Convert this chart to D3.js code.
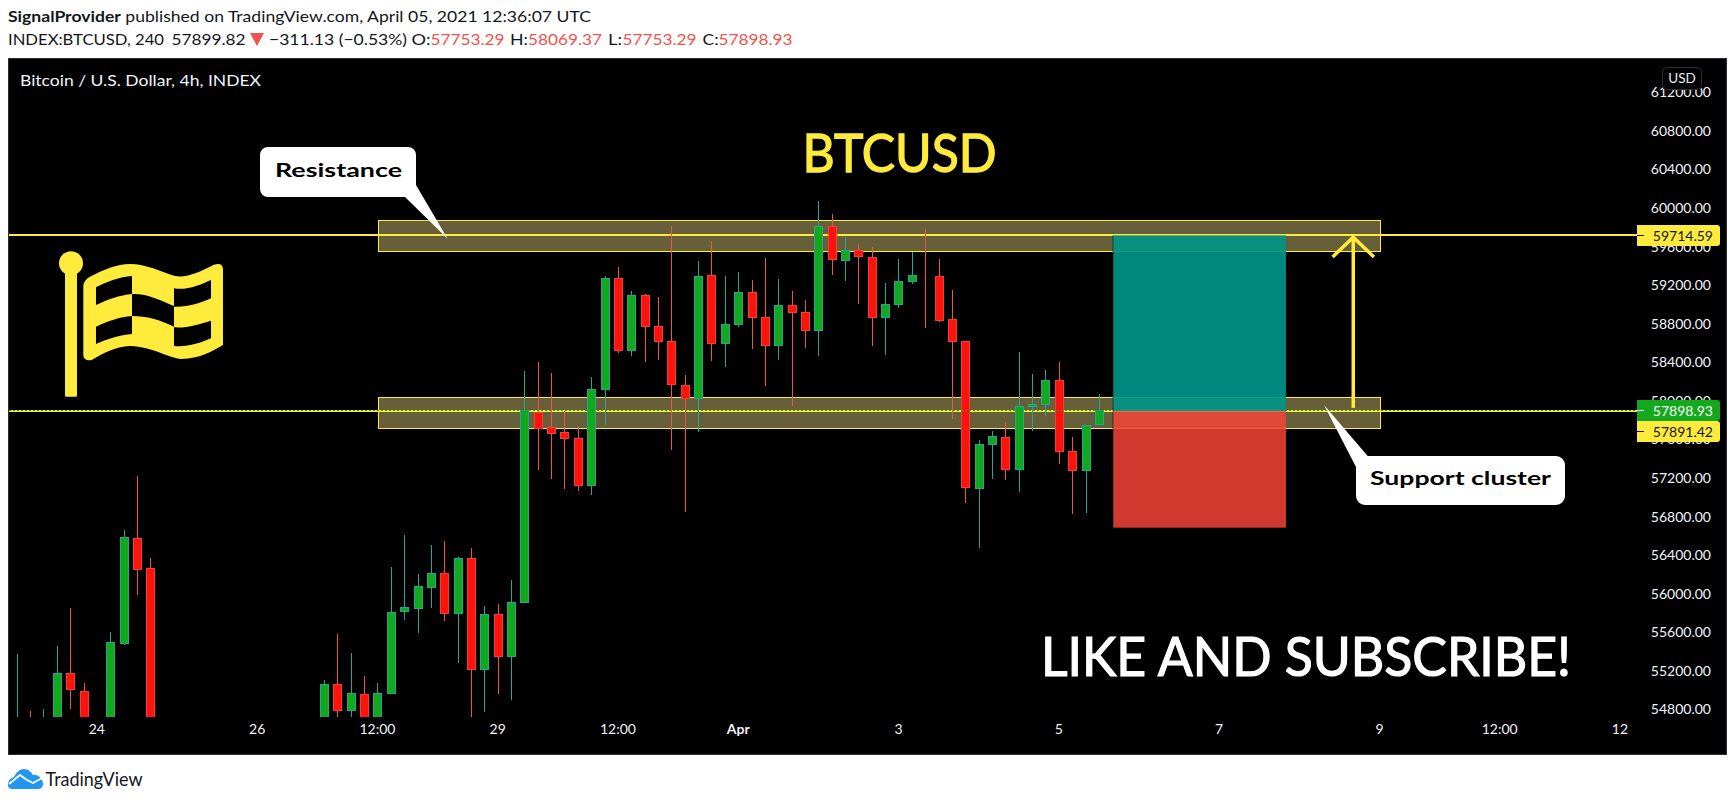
<!DOCTYPE html>
<html>
<head>
<meta charset="utf-8">
<script src="https://cdn.jsdelivr.net/npm/d3@7"></script>
<style>
html,body{margin:0;padding:0;background:#fff;overflow:hidden}
svg{display:block}
text{font-family:Lato,"Noto Sans",sans-serif}
</style>
</head>
<body>
<div id="chart"></div>
<script>
// ---- data (bar numbers count 4h candles from the left edge)
const barIndex = [0,1,2,3,4,5,7,8,9,10,
  23,24,25,26,27,28,29,30,31,32,33,34,35,36,37,38,39,40,41,42,43,44,45,46,47,48,49,50,51,52,
  53,54,55,56,57,58,59,60,61,62,63,64,65,66,67,68,69,70,71,72,73,74,75,76,77,78,79,80,81];
const opens = [54400,54650,54500,54600,55173,54986,54600,55480,56573,56262,
  54600,55059,54785,54955,54650,54961,55812,55843,56061,56210,55791,56365,55210,55785,55345,55905,57879,57717,57672,57610,57118,58118,59269,58518,59093,58771,58616,58159,58021,59300,
  58591,58788,59124,58865,58570,58989,58916,58726,59808,59452,59559,59487,58860,58995,59234,59300,59290,58844,58616,57091,57548,57620,57288,57942,57962,58211,57475,57278,57753.29];
const highs = [55373,54782,54803,55456,55847,55072,55598,56659,57219,56369,
  55103,55580,55383,55145,55072,56275,56607,56203,56503,56545,56379,56472,55871,55892,56140,58308,58401,58287,57893,57737,58246,59293,59386,59137,59106,59075,59811,58266,59448,59656,
  59293,59334,59251,59480,59262,59137,59044,60071,59936,59697,59625,59594,59220,59469,59542,59780,59469,59148,58616,57592,57686,57779,58505,58277,58318,58401,57623,57745,58069.37];
const lows = [54300,54400,54400,54500,54803,54500,54500,55466,55985,54500,
  54500,54650,54650,54550,54550,54961,55726,55591,55850,55715,55280,54700,54772,54958,54896,55905,57284,57188,57084,57066,57022,57748,58498,58463,58401,58422,57489,56849,57678,58411,
  58352,58767,58539,58155,58422,57945,58546,58463,59303,59241,59003,58567,58474,58961,59210,58754,58816,57810,56942,56475,57191,57180,57056,57689,57844,57346,56828,56838,57753.29];
const closes = [54500,54500,54650,55173,55003,54600,55494,56583,56247,54600,
  55059,54785,54965,54650,54965,55805,55857,56075,56210,55791,56365,55210,55785,55345,55909,57893,57709,57658,57606,57118,58118,59269,58518,59093,58767,58612,58166,58021,59290,58591,
  58792,59124,58860,58570,58989,58912,58726,59808,59462,59559,59493,58860,58999,59238,59300,59295,58829,58612,57098,57548,57631,57288,57942,57962,58211,57471,57274,57745,57898.93];

const priceTicks = [54800,55200,55600,56000,56400,56800,57200,57600,58000,58400,58800,59200,59600,60000,60400,60800,61200];
const timeTickBars = [6,18,27,36,45,54,66,78,90,102,111,120];
const timeTickLabels = ["24","26","12:00","29","12:00","Apr","3","5","7","9","12:00","12"];

const resistanceLevel = 59714.59;
const supportLevel = 57891.42;
const lastPrice = 57898.93;
const zoneBars = [27,102];
const resistanceZone = [59545,59871];
const supportZone = [57709,58035];
const positionBars = [82,95];
const positionTarget = 59714.59;
const positionEntry = 57891.42;
const positionStop = 56683;
const arrowBar = 100;
const arrowFrom = 57925;
const arrowTo = 59695;
const arrowHeadBase = 59490;
const arrowHeadBars = 1.55;

const headerLine1 = "SignalProvider published on TradingView.com, April 05, 2021 12:36:07 UTC";
const paneTitle = "Bitcoin / U.S. Dollar, 4h, INDEX";

// ---- colours
const YEL="#ffeb3b", GRN="#13a91c", GRNB="#22a69a", RED="#fc140c", REDB="#f23f38", WICKR="#ef5350", INK="#131722", FRAME="#2a2e39";

const W=1735,H=803;
const pane={l:8.5,t:58.5,r:1726.5,b:754.5};
const svg=d3.select("#chart").append("svg").attr("width",W).attr("height",H).attr("viewBox",`0 0 ${W} ${H}`);

const x=d3.scaleLinear().domain([0,81]).range([17.2,1099.4]);
const y=d3.scaleLinear().domain([57200,60000]).range([477.8,207.8]);
const cx=i=>Math.floor(x(i));

svg.append("rect").attr("x",pane.l).attr("y",pane.t).attr("width",pane.r-pane.l).attr("height",pane.b-pane.t).attr("fill","#000").attr("stroke",FRAME);

svg.append("defs").append("clipPath").attr("id","bars").append("rect").attr("x",8).attr("y",58).attr("width",1630).attr("height",659);

// zones
function zone(r){
  const t=Math.floor(y(r[1]))+.5,b=Math.floor(y(r[0]))+.5,l=Math.round(x(zoneBars[0]))+.5,rr=Math.round(x(zoneBars[1]))+.5;
  svg.append("rect").attr("x",l).attr("y",t).attr("width",rr-l).attr("height",b-t).attr("fill","#665f3a").attr("stroke",YEL).attr("stroke-width",1);
}
zone(resistanceZone); zone(supportZone);

// horizontal levels
[resistanceLevel,supportLevel].forEach(v=>{
  svg.append("line").attr("x1",9).attr("x2",1638).attr("y1",Math.round(y(v))).attr("y2",Math.round(y(v))).attr("stroke",YEL).attr("stroke-width",2);
});

// candles
const rows=barIndex.map((b,k)=>({b,o:opens[k],h:highs[k],l:lows[k],c:closes[k]}));
const g=svg.append("g").attr("clip-path","url(#bars)");
g.selectAll("line.wick").data(rows).join("line").attr("class","wick")
  .attr("x1",d=>cx(d.b)+.5).attr("x2",d=>cx(d.b)+.5)
  .attr("y1",d=>Math.round(y(d.h))).attr("y2",d=>Math.round(y(d.l)))
  .attr("stroke",d=>d.c>=d.o?"#26a69a":WICKR).attr("stroke-width",1);
g.selectAll("rect.body").data(rows).join("rect").attr("class","body")
  .attr("x",d=>cx(d.b)-3.5).attr("width",8)
  .attr("y",d=>Math.floor(y(Math.max(d.o,d.c)))+.5)
  .attr("height",d=>Math.max(0,Math.floor(y(Math.min(d.o,d.c)))-Math.floor(y(Math.max(d.o,d.c)))))
  .attr("fill",d=>d.c>=d.o?GRN:RED)
  .attr("stroke",d=>d.c>=d.o?GRNB:REDB).attr("stroke-width",1);

// last price dotted line
svg.append("line").attr("x1",9).attr("x2",1638).attr("y1",Math.floor(y(lastPrice))+.5).attr("y2",Math.floor(y(lastPrice))+.5)
  .attr("stroke",GRN).attr("stroke-width",1).attr("stroke-dasharray","2 2");

// long position tool
const pl=Math.round(x(positionBars[0])), pr=Math.round(x(positionBars[1]));
svg.append("rect").attr("x",pl).attr("width",pr-pl).attr("y",y(positionTarget)).attr("height",y(positionEntry)-y(positionTarget)).attr("fill","#009688").attr("fill-opacity",.91);
svg.append("rect").attr("x",pl).attr("width",pr-pl).attr("y",y(positionEntry)).attr("height",y(positionStop)-y(positionEntry)).attr("fill","#f44336").attr("fill-opacity",.85);
svg.append("line").attr("x1",pl).attr("x2",pl).attr("y1",y(positionTarget)).attr("y2",y(positionStop)).attr("stroke","#000").attr("stroke-opacity",.5);

// arrow
const arrowStyle=s=>s.attr("fill","none").attr("stroke",YEL).attr("stroke-width",3.5);
svg.append("line").attr("x1",x(arrowBar)).attr("x2",x(arrowBar)).attr("y1",y(arrowFrom)).attr("y2",y(arrowTo)).call(arrowStyle);
svg.append("path").attr("d",d3.line()([[x(arrowBar-arrowHeadBars),y(arrowHeadBase)],[x(arrowBar),y(arrowTo)],[x(arrowBar+arrowHeadBars),y(arrowHeadBase)]])).call(arrowStyle);

// price axis
const yAxis=d3.axisRight(y).tickValues(priceTicks).tickSize(0).tickPadding(0).tickFormat(d3.format(".2f"));
const ya=svg.append("g").attr("transform","translate(1711,0.2)").call(yAxis);
ya.select(".domain").remove();
ya.selectAll("text").attr("text-anchor","end").attr("x",0).attr("fill","#f0f3fa").attr("font-size",14).attr("font-family","Lato");

// time axis
const xAxis=d3.axisBottom(x).tickValues(timeTickBars).tickSize(0).tickPadding(0).tickFormat((d,i)=>timeTickLabels[i]);
const xa=svg.append("g").attr("transform","translate(-1,724)").call(xAxis);
xa.select(".domain").remove();
xa.selectAll("text").attr("fill","#f0f3fa").attr("font-size",14).attr("font-family","Lato").attr("dy","0.71em")
  .attr("font-weight",(d,i)=>timeTickLabels[i]==="Apr"?700:400);

// price labels
function priceLabel(cy,txt,bg,fg){
  const G=svg.append("g");
  G.append("path").attr("d",`M1637,${cy-10.5}H1717a3,3 0 0 1 3,3V${cy+7.5}a3,3 0 0 1 -3,3H1637Z`).attr("fill",bg);
  G.append("line").attr("x1",1637).attr("x2",1644).attr("y1",cy).attr("y2",cy).attr("stroke",fg);
  G.append("text").attr("x",1713).attr("y",cy+5).attr("text-anchor","end").attr("fill",fg).attr("font-size",14).text(txt);
}
priceLabel(235.5,"59714.59",YEL,"#131722");
priceLabel(431.5,"57891.42",YEL,"#131722");
priceLabel(410.5,"57898.93",GRN,"#ffffff");

// USD button
svg.append("rect").attr("x",1662.5).attr("y",67.5).attr("width",39).attr("height",22).attr("rx",4).attr("fill","#000").attr("stroke",FRAME);
svg.append("text").attr("x",1682).attr("y",83).attr("text-anchor","middle").attr("fill","#e8ecf5").attr("font-size",13.5).text("USD");

// flag
const flagPath="M130,165 Q134,148 150,140 C190,120 230,102 270,102 C320,102 360,125 405,138 C440,145 480,125 520,105 Q548,95 549,118 L549,345 C510,367 480,385 425,387 C385,385 340,350 270,348 C225,350 190,370 155,390 Q135,395 130,378 Z "
 +"M168,172 C200,155 240,140 276,138 L276,192 C240,195 200,210 168,225 Z "
 +"M276,192 C320,190 360,210 402,228 L402,290 C360,270 320,258 276,258 Z "
 +"M402,175 C440,182 480,165 513,150 L513,205 C480,220 440,232 402,230 Z "
 +"M168,290 C200,275 240,260 276,258 L276,312 C240,315 200,328 168,342 Z "
 +"M402,292 C440,295 480,282 513,272 L513,325 C480,340 440,352 402,348 Z";
const fg=svg.append("g").attr("transform","translate(40,230) scale(0.3333)").attr("fill",YEL);
fg.append("path").attr("d",flagPath).attr("fill-rule","evenodd");
fg.append("circle").attr("cx",93).attr("cy",100).attr("r",36);
fg.append("rect").attr("x",75).attr("y",125).attr("width",36).attr("height",375).attr("rx",3);

// titles on the chart
svg.append("text").attr("x",802.5).attr("y",171.5).attr("fill",YEL).attr("stroke",YEL).attr("stroke-width",1.3).attr("font-size",53).attr("textLength",194).attr("lengthAdjust","spacingAndGlyphs").text("BTCUSD");
svg.append("text").attr("x",1041).attr("y",676).attr("fill","#fff").attr("stroke","#fff").attr("stroke-width",1.2).attr("font-size",54).attr("textLength",530).attr("lengthAdjust","spacingAndGlyphs").text("LIKE AND SUBSCRIBE!");

// callouts
function callout(d,tx,ty,txt,len){
  svg.append("path").attr("d",d).attr("fill","#fff");
  svg.append("text").attr("x",tx).attr("y",ty).attr("fill","#000").attr("font-family","'DejaVu Sans'").attr("font-weight",700).attr("font-size",18).attr("textLength",len).attr("lengthAdjust","spacingAndGlyphs").text(txt);
}
callout("M268,147H408a8,8 0 0 1 8,8V185L447.6,238.7L405,197H268a8,8 0 0 1 -8,-8V155a8,8 0 0 1 8,-8Z",275,177,"Resistance",127);
callout("M1367.7,456H1556a9,9 0 0 1 9,9V496a9,9 0 0 1 -9,9H1365a9,9 0 0 1 -9,-9V467L1324,405Z",1370,485,"Support cluster",181);

// pane title
svg.append("text").attr("x",20).attr("y",86).attr("fill","#f0f3fa").attr("font-size",16).attr("textLength",241).attr("lengthAdjust","spacingAndGlyphs").text(paneTitle);

// header
const hd=(xp,yp,txt,col,len,w)=>{const t=svg.append("text").attr("x",xp).attr("y",yp).attr("fill",col).attr("font-size",16).attr("font-weight",w||400).text(txt); if(len)t.attr("textLength",len).attr("lengthAdjust","spacingAndGlyphs"); return t;};
const h1=svg.append("text").attr("x",8).attr("y",22).attr("fill",INK).attr("font-size",16).attr("textLength",583).attr("lengthAdjust","spacingAndGlyphs");
h1.append("tspan").attr("font-weight",700).text(headerLine1.slice(0,14));
h1.append("tspan").text(headerLine1.slice(14));
hd(8,45,"INDEX:BTCUSD, 240",INK,156);
hd(171.5,45,"57899.82",INK,74);
svg.append("path").attr("d","M250,33H264L257,46Z").attr("fill","#f05350");
hd(269,45,"−311.13 (−0.53%)",INK,138);
hd(411.5,45,"O:",INK,19);
hd(430.5,45,"57753.29",WICKR,74);
hd(510,45,"H:",INK,18);
hd(528,45,"58069.37",WICKR,74);
hd(608,45,"L:",INK,14);
hd(622.5,45,"57753.29",WICKR,74);
hd(702.5,45,"C:",INK,16);
hd(718.5,45,"57898.93",WICKR,74);

// logo
const lg=svg.append("g").attr("transform","translate(8,769)");
lg.append("path").attr("d","M0,16 C0,11 3,9 6,8 C8,4 11,0 16,0 C20,0 23,3 25,6 C30,5 35,10 35,15 C35,18 33,20 30,20 H5 C2,20 0,19 0,16Z").attr("fill","#2196f3");
lg.append("path").attr("d","M1,15 L12,6 L19,11 L25,14 L34,9").attr("fill","none").attr("stroke","#fff").attr("stroke-width",1.8);
svg.append("text").attr("x",45.5).attr("y",785.5).attr("fill",INK).attr("font-size",19).attr("textLength",97).attr("lengthAdjust","spacingAndGlyphs").text("TradingView");
</script>
</body>
</html>
